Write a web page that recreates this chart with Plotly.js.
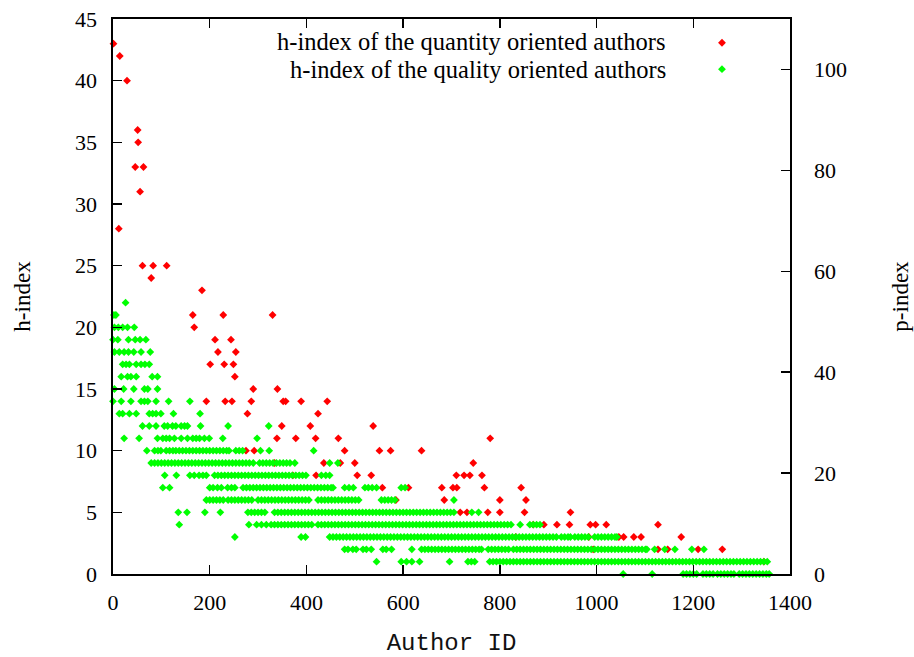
<!DOCTYPE html>
<html>
<head>
<meta charset="utf-8">
<script src="https://cdn.plot.ly/plotly-3.0.1.min.js"></script>
<style>html,body{margin:0;padding:0;background:#fff;}#chart{width:914px;height:657px;}</style>
</head>
<body>
<div id="chart"></div>
<script>
// ---- Series names ----
const seriesNames = ["h-index of the quantity oriented authors", "h-index of the quality oriented authors"];

// ---- Quantity oriented authors (red): author ID and h-index ----
const redIds = [1,14,29,51,52,46,63,56,12,61,83,111,79,184,165,228,330,168,211,244,217,254,201,230,249,252,290,340,193,232,246,286,352,357,389,443,278,424,349,408,538,339,378,419,466,780,275,292,479,551,574,638,436,470,500,334,745,372,420,505,534,710,726,738,763,557,611,680,703,711,768,844,585,685,800,854,718,732,775,800,851,946,869,891,918,944,987,998,1020,1127,833,984,1046,1056,1077,1092,1175,993,1127,1147,1210,1260,1346];
const redH   = [43,42,40,36,35,33,33,31,28,25,25,25,24,23,21,21,21,20,19,19,18,18,17,17,17,16,15,15,14,14,14,14,14,14,14,14,13,13,12,12,12,11,11,11,11,11,10,10,10,10,10,10,9,9,9,9,9,8,8,8,8,8,8,8,8,7,7,7,7,7,7,7,6,6,6,6,5,5,5,5,5,5,4,4,4,4,4,4,4,4,3,3,3,3,3,3,3,2,2,2,2,2,1];

// ---- Quality oriented authors (green): author IDs for each h-index level ----
const gH22 = [26];
const gH21 = [2,6];
const gH20 = [3,11,20,30,44];
const gH19 = [0,10,32,46,56,68];
const gH18 = [3,13,23,32,43,58,77];
const gH17 = [20,27,34,48,58,66,75];
const gH16 = [17,30,37,48,81,92];
const gH15 = [3,22,43,65,72,92];
const gH14 = [0,17,37,58,65,72,89,115,159];
const gH13 = [13,20,34,48,75,82,89,99,125,180];
const gH12 = [61,75,89,106,113,123,130,141,148,154,181,238,322];
const gH11 = [23,54,92,103,110,117,127,141,154,165,172,179,189,199,227,298];
const gH10 = [70,86,93,99,110,117,124,130,137,144,151,158,165,172,179,186,193,200,207,214,221,228,235,240,254,261,268,305,323,415];
const gH9  = [79,86,93,100,107,114,121,128,135,142,149,156,163,170,177,184,191,198,205,212,219,226,233,240,247,254,261,268,275,282,290,303,310,317,324,331,338,345,352,359,366,376,448,465];
const gH8  = [107,131,159,168,178,186,193,210,217,224,231,238,245,252,259,266,273,280,287,294,301,308,315,322,329,336,343,350,357,364,371,378,385,392,399,431,440,448];
const gH7  = [103,117,200,207,216,224,237,245,252,269,276,283,290,297,304,311,318,325,332,339,346,353,360,367,374,381,388,395,402,409,416,423,430,437,444,451,455,479,488,497,521,528,536,545,596,604];
const gH6  = [193,200,207,214,221,228,238,245,252,259,266,273,280,287,300,307,314,321,328,335,342,349,356,363,370,377,384,391,398,405,424,431,438,445,452,459,466,473,480,487,494,501,508,555,562,569,576,583,705];
const gH5  = [135,153,190,222,279,286,293,300,307,314,334,341,348,355,362,369,376,383,390,397,404,411,418,425,432,439,446,453,460,467,474,481,488,495,502,509,516,523,530,537,544,551,558,565,572,579,586,593,600,607,614,621,628,635,642,649,656,663,670,677,684,691,698,705,742,756];
const gH4  = [137,281,297,307,317,327,334,341,348,355,362,369,376,383,390,397,404,411,424,431,438,445,452,459,466,473,480,487,494,501,508,515,522,529,536,543,550,557,564,571,578,585,592,599,606,613,620,627,634,641,648,655,662,669,676,683,690,697,704,711,718,725,732,739,746,753,760,767,774,781,788,795,802,809,816,823,842,862,869,876,883];
const gH3  = [252,389,398,448,455,462,469,476,483,490,497,504,511,518,525,532,539,546,553,560,567,574,581,588,595,602,609,616,623,630,637,644,651,658,665,672,679,686,693,700,707,714,721,728,735,742,749,756,763,770,777,784,791,798,805,812,819,826,833,840,847,854,861,868,875,882,889,896,903,910,917,927,934,941,946,955,962,969,976,983,996,1003,1010,1017,1024,1031,1038,1042];
const gH2  = [479,486,496,503,517,524,534,558,565,576,618,638,645,652,659,666,673,680,687,694,701,708,715,722,729,736,743,750,757,762,776,783,790,797,804,811,818,828,835,842,849,856,863,870,877,884,891,898,905,912,919,926,933,940,947,954,961,968,975,982,989,996,1003,1010,1017,1024,1031,1038,1045,1052,1059,1066,1073,1080,1087,1094,1101,1104,1120,1141,1162,1197,1222];
const gH1  = [545,596,607,618,634,696,734,741,748,779,786,793,800,807,814,821,828,835,842,849,856,863,870,877,884,891,898,905,912,919,926,933,940,947,954,961,968,975,982,989,996,1003,1010,1017,1024,1031,1038,1045,1052,1059,1066,1073,1080,1087,1094,1101,1108,1115,1122,1129,1136,1143,1150,1157,1164,1171,1178,1185,1192,1199,1206,1213,1220,1227,1234,1241,1248,1255,1262,1269,1276,1283,1290,1297,1304,1311,1318,1325,1332,1339,1346,1353];
const gH0  = [1055,1115,1179,1186,1193,1200,1207,1220,1227,1234,1241,1250,1257,1264,1271,1278,1284,1295,1302,1309,1316,1323,1330,1337,1344,1351,1357];

const greenLevels = [22,21,20,19,18,17,16,15,14,13,12,11,10,9,8,7,6,5,4,3,2,1,0];
const greenRows = [gH22,gH21,gH20,gH19,gH18,gH17,gH16,gH15,gH14,gH13,gH12,gH11,gH10,gH9,gH8,gH7,gH6,gH5,gH4,gH3,gH2,gH1,gH0];

// ---- Axis ticks ----
const xTicks = [0,200,400,600,800,1000,1200,1400];
const hTicks = [0,5,10,15,20,25,30,35,40,45];
const pTicks = [0,20,40,60,80,100];

// Build green arrays from per-level lists
const greenIds = [], greenH = [];
greenRows.forEach((row, i) => { row.forEach(id => { greenIds.push(id); greenH.push(greenLevels[i]); }); });

const serif = "Liberation Serif";
const mono = "Liberation Mono";

const traces = [
  { type: "scatter", mode: "markers", x: redIds, y: redH, name: " ",
    marker: { symbol: "diamond", size: 6, color: "#ff0000", line: {width: 0} }, cliponaxis: false, hoverinfo: "x+y" },
  { type: "scatter", mode: "markers", x: greenIds, y: greenH, name: " ",
    marker: { symbol: "diamond", size: 6, color: "#00ff00", line: {width: 0} }, cliponaxis: false, hoverinfo: "x+y" },
  { type: "scatter", mode: "markers", x: [], y: [], yaxis: "y2", showlegend: false, hoverinfo: "skip" }
];

function axisBase() {
  return {
    showgrid: false, zeroline: false, showline: true, linecolor: "#000", linewidth: 1.6,
    ticks: "inside", ticklen: 9, tickwidth: 1.4, tickcolor: "#000",
    tickfont: { family: serif, size: 22, color: "#000" }
  };
}

const layout = {
  width: 914, height: 657,
  margin: { l: 113, r: 124, t: 19, b: 83 },
  paper_bgcolor: "#fff", plot_bgcolor: "#fff",
  font: { family: serif, color: "#000" },
  showlegend: true,
  legend: { x: 0.87, xanchor: "left", y: 0.99, yanchor: "top", bgcolor: "rgba(0,0,0,0)",
            font: { family: serif, size: 18, color: "#000" }, tracegroupgap: 0, itemwidth: 30 },
  xaxis: Object.assign(axisBase(), {
    range: [0, 1400], tickvals: xTicks, ticktext: xTicks.map(String), mirror: "ticks",
    ticklabelstandoff: 8,
    title: { text: "Author ID", font: { family: mono, size: 24, color: "#111" }, standoff: 22 }
  }),
  yaxis: Object.assign(axisBase(), {
    range: [0, 45], tickvals: hTicks, ticktext: hTicks.map(String), mirror: false,
    ticklabelstandoff: 10,
    title: { text: "h-index", font: { family: serif, size: 23, color: "#000" }, standoff: 38 }
  }),
  yaxis2: Object.assign(axisBase(), {
    range: [0, 110], tickvals: pTicks, ticktext: pTicks.map(String), overlaying: "y", side: "right",
    ticklabelstandoff: 18,
    title: { text: "p-index", font: { family: serif, size: 23, color: "#000" }, standoff: 46 }
  }),
  annotations: [
    { xref: "paper", yref: "paper", x: 0.8198, y: 0.9595, xanchor: "right", yanchor: "middle", showarrow: false,
      text: seriesNames[0], font: { family: serif, size: 24.5, color: "#000" } },
    { xref: "paper", yref: "paper", x: 0.8198, y: 0.9099, xanchor: "right", yanchor: "middle", showarrow: false,
      text: seriesNames[1], font: { family: serif, size: 24.5, color: "#000" } }
  ]
};

Plotly.newPlot("chart", traces, layout, { displayModeBar: false, staticPlot: true });
</script>
</body>
</html>
